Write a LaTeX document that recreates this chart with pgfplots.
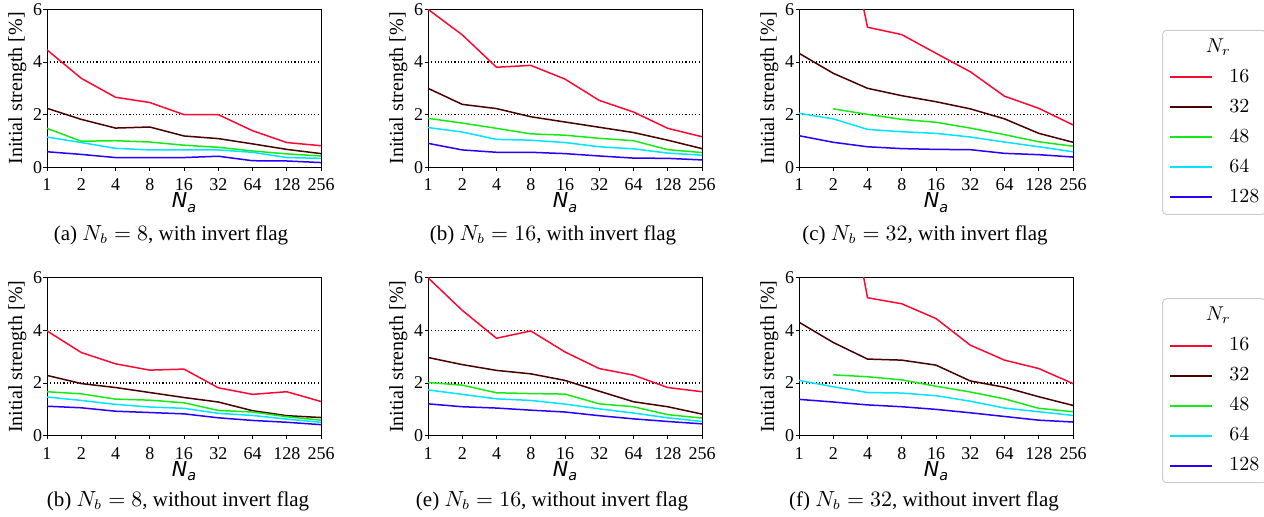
\documentclass[border=0pt]{standalone}
\usepackage{fontspec}
\setmainfont{Liberation Serif}
\newfontfamily\dejavu{DejaVu Sans}
\usepackage{pgfplots}
\pgfplotsset{compat=1.18}
\definecolor{c16}{RGB}{250,10,50}
\definecolor{c32}{RGB}{72,0,0}
\definecolor{c48}{RGB}{20,235,20}
\definecolor{c64}{RGB}{0,228,255}
\definecolor{c128}{RGB}{40,0,255}
\definecolor{legframe}{RGB}{204,204,204}
\pgfplotsset{
  sub/.style={
    scale only axis, width=137pt, height=79pt,
    anchor=south west,
    xmin=0, xmax=8, ymin=0, ymax=6,
    xtick={0,...,8}, xticklabels={1,2,4,8,16,32,64,128,256},
    ytick={0,2,4,6},
    ymajorgrids, grid style={black, line width=0.55pt, dash pattern=on 0.55pt off 1.1pt},
    tick align=outside, tick pos=left, major tick length=1.75pt,
    tick style={black, line width=0.4pt},
    axis line style={line width=0.45pt},
    ticklabel style={font=\fontsize{9}{10}\selectfont},
    xticklabel style={yshift=-0.5pt},
    yticklabel style={inner xsep=0.5pt},
    /pgf/number format/assume math mode=true,
    ylabel={Initial strength [\%]},
    ylabel style={at={(axis description cs:-0.108,0.5)}, anchor=center, font=\fontsize{10}{12}\selectfont},
    xlabel={{\dejavu\itshape N\kern0.01em\raisebox{-0.22em}{\fontsize{7.2}{8}\selectfont a}}},
    xlabel style={at={(axis description cs:0.5,-0.225)}, anchor=center, font=\fontsize{10.3}{12}\selectfont},
    every axis plot/.append style={line width=0.75pt},
  },
  leg/.style={
    legend style={at={(axis description cs:1.325,0.87)}, anchor=north west,
      draw=legframe, rounded corners=2pt, line width=0.5pt,
      font=\fontsize{10}{12}\selectfont,
      inner xsep=3.5pt, inner ysep=1pt,
      column sep=8pt,
      nodes={inner sep=0pt, text height=7.5pt, text depth=2.5pt, inner ysep=2.5pt}},
    legend cell align=left,
    legend image code/.code={\draw[##1, line width=0.85pt] (0pt,0pt) -- (21pt,0pt);},
  }
}
\begin{document}
\begin{tikzpicture}
\path[use as bounding box] (0,0) rectangle (632pt,258pt);
% (a)
\begin{axis}[sub, at={(23.5pt,174.35pt)}]
\addplot[c16] coordinates {(0,4.46) (1,3.38) (2,2.66) (3,2.46) (4,2.0) (5,2.0) (6,1.39) (7,0.94) (8,0.82)};
\addplot[c32] coordinates {(0,2.24) (1,1.82) (2,1.49) (3,1.53) (4,1.19) (5,1.09) (6,0.89) (7,0.68) (8,0.52)};
\addplot[c48] coordinates {(0,1.48) (1,0.99) (2,1.01) (3,0.96) (4,0.84) (5,0.76) (6,0.62) (7,0.51) (8,0.43)};
\addplot[c64] coordinates {(0,1.15) (1,0.94) (2,0.72) (3,0.66) (4,0.66) (5,0.66) (6,0.57) (7,0.37) (8,0.34)};
\addplot[c128] coordinates {(0,0.59) (1,0.49) (2,0.37) (3,0.37) (4,0.37) (5,0.42) (6,0.25) (7,0.24) (8,0.18)};
\end{axis}
% (b)
\begin{axis}[sub, at={(214pt,174.35pt)}]
\addplot[c16] coordinates {(0,6.0) (1,5.03) (2,3.80) (3,3.87) (4,3.35) (5,2.54) (6,2.10) (7,1.48) (8,1.16)};
\addplot[c32] coordinates {(0,3.0) (1,2.39) (2,2.23) (3,1.92) (4,1.72) (5,1.52) (6,1.32) (7,1.03) (8,0.71)};
\addplot[c48] coordinates {(0,1.86) (1,1.68) (2,1.48) (3,1.27) (4,1.22) (5,1.10) (6,1.01) (7,0.67) (8,0.56)};
\addplot[c64] coordinates {(0,1.51) (1,1.34) (2,1.06) (3,1.03) (4,0.94) (5,0.78) (6,0.70) (7,0.54) (8,0.46)};
\addplot[c128] coordinates {(0,0.91) (1,0.66) (2,0.57) (3,0.57) (4,0.52) (5,0.43) (6,0.35) (7,0.34) (8,0.28)};
\end{axis}
% (c)
\begin{axis}[sub, leg, at={(399.5pt,174.35pt)}]
\addlegendimage{empty legend}
\addlegendentry{\hspace{-12pt}$N_r$}
\addplot[c16] coordinates {(1,11.6) (2,5.32) (3,5.04) (4,4.33) (5,3.63) (6,2.70) (7,2.24) (8,1.61)};
\addlegendentry{$16$}
\addplot[c32] coordinates {(0,4.33) (1,3.57) (2,3.0) (3,2.72) (4,2.49) (5,2.22) (6,1.84) (7,1.29) (8,0.95)};
\addlegendentry{$32$}
\addplot[c48] coordinates {(1,2.22) (2,2.01) (3,1.82) (4,1.71) (5,1.49) (6,1.24) (7,0.97) (8,0.80)};
\addlegendentry{$48$}
\addplot[c64] coordinates {(0,2.05) (1,1.84) (2,1.44) (3,1.35) (4,1.29) (5,1.15) (6,0.96) (7,0.78) (8,0.59)};
\addlegendentry{$64$}
\addplot[c128] coordinates {(0,1.20) (1,0.95) (2,0.78) (3,0.71) (4,0.68) (5,0.67) (6,0.53) (7,0.48) (8,0.39)};
\addlegendentry{$128$}
\end{axis}
% (d)
\begin{axis}[sub, at={(23.5pt,40.15pt)}]
\addplot[c16] coordinates {(0,3.98) (1,3.16) (2,2.73) (3,2.49) (4,2.53) (5,1.82) (6,1.57) (7,1.67) (8,1.30)};
\addplot[c32] coordinates {(0,2.29) (1,1.98) (2,1.83) (3,1.64) (4,1.45) (5,1.28) (6,0.95) (7,0.76) (8,0.69)};
\addplot[c48] coordinates {(0,1.67) (1,1.59) (2,1.39) (3,1.35) (4,1.25) (5,0.96) (6,0.90) (7,0.72) (8,0.59)};
\addplot[c64] coordinates {(0,1.47) (1,1.34) (2,1.19) (3,1.09) (4,1.04) (5,0.85) (6,0.77) (7,0.63) (8,0.51)};
\addplot[c128] coordinates {(0,1.12) (1,1.06) (2,0.93) (3,0.88) (4,0.83) (5,0.68) (6,0.58) (7,0.51) (8,0.42)};
\end{axis}
% (e)
\begin{axis}[sub, at={(214pt,40.15pt)}]
\addplot[c16] coordinates {(0,6.0) (1,4.76) (2,3.70) (3,3.98) (4,3.18) (5,2.55) (6,2.30) (7,1.83) (8,1.67)};
\addplot[c32] coordinates {(0,2.97) (1,2.70) (2,2.48) (3,2.35) (4,2.10) (5,1.69) (6,1.29) (7,1.10) (8,0.82)};
\addplot[c48] coordinates {(0,2.02) (1,1.92) (2,1.63) (3,1.60) (4,1.58) (5,1.21) (6,1.10) (7,0.80) (8,0.67)};
\addplot[c64] coordinates {(0,1.74) (1,1.57) (2,1.40) (3,1.34) (4,1.20) (5,1.02) (6,0.86) (7,0.68) (8,0.54)};
\addplot[c128] coordinates {(0,1.21) (1,1.10) (2,1.05) (3,0.97) (4,0.90) (5,0.76) (6,0.64) (7,0.54) (8,0.45)};
\end{axis}
% (f)
\begin{axis}[sub, leg, at={(399.5pt,40.15pt)}]
\addlegendimage{empty legend}
\addlegendentry{\hspace{-12pt}$N_r$}
\addplot[c16] coordinates {(1,12.2) (2,5.24) (3,5.01) (4,4.45) (5,3.44) (6,2.87) (7,2.55) (8,1.98)};
\addlegendentry{$16$}
\addplot[c32] coordinates {(0,4.31) (1,3.54) (2,2.91) (3,2.87) (4,2.68) (5,2.08) (6,1.84) (7,1.48) (8,1.15)};
\addlegendentry{$32$}
\addplot[c48] coordinates {(1,2.31) (2,2.24) (3,2.12) (4,1.88) (5,1.66) (6,1.40) (7,1.04) (8,0.91)};
\addlegendentry{$48$}
\addplot[c64] coordinates {(0,2.10) (1,1.86) (2,1.64) (3,1.62) (4,1.52) (5,1.31) (6,1.05) (7,0.91) (8,0.77)};
\addlegendentry{$64$}
\addplot[c128] coordinates {(0,1.38) (1,1.28) (2,1.17) (3,1.10) (4,1.00) (5,0.87) (6,0.73) (7,0.59) (8,0.52)};
\addlegendentry{$128$}
\end{axis}
% captions
\begin{scope}[every node/.style={anchor=base, inner sep=0pt, font=\fontsize{10.5}{12}\selectfont}]
\node at (85.5pt,137.75pt) {(a) $N_b=8$, with invert flag};
\node at (276.5pt,137.75pt) {(b) $N_b=16$, with invert flag};
\node at (462.5pt,137.75pt) {(c) $N_b=32$, with invert flag};
\node at (89pt,4.65pt) {(b) $N_b=8$, without invert flag};
\node at (276pt,4.65pt) {(e) $N_b=16$, without invert flag};
\node at (462pt,4.65pt) {(f) $N_b=32$, without invert flag};
\end{scope}
\end{tikzpicture}
\end{document}
